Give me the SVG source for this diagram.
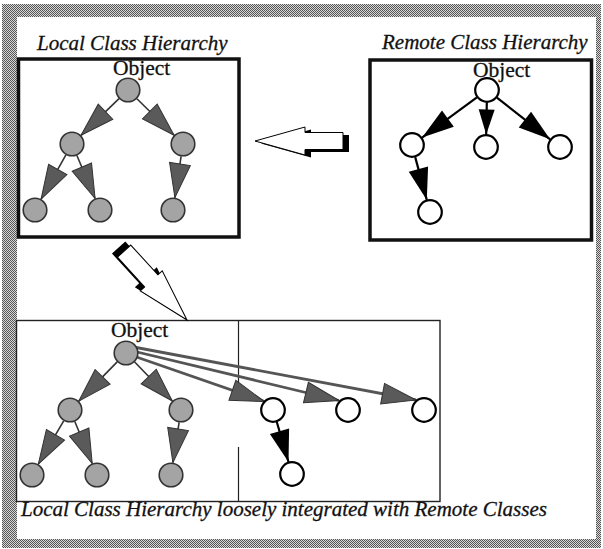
<svg xmlns="http://www.w3.org/2000/svg" xmlns:xlink="http://www.w3.org/1999/xlink" width="603" height="549" viewBox="0 0 603 549">
  <style>
    .title { font-family: "Liberation Serif", "Times New Roman", serif; font-style: italic; font-size: 21px; fill: #111; stroke: #111; stroke-width: 0.3; }
    .label { font-family: "Liberation Serif", "Times New Roman", serif; font-size: 21.5px; fill: #111; stroke: #111; stroke-width: 0.3; }
    .box-thick { fill: none; stroke: #111; stroke-width: 3.5; }
    .box-thin { fill: none; stroke: #222; stroke-width: 1.4; }
    .divider { stroke: #222; stroke-width: 1.2; }
    .local { fill: #a4a4a4; stroke: #333; stroke-width: 1.6; }
    .remote { fill: #fff; stroke: #000; stroke-width: 2.2; }
    .edge-local { stroke: #333; stroke-width: 1.6; fill: none; marker-end: url(#head-gray); }
    .edge-link { stroke: #555; stroke-width: 2.8; fill: none; marker-end: url(#head-gray); }
    .edge-remote { stroke: #000; stroke-width: 2.2; fill: none; marker-end: url(#head-black); }
    .edge-remote-short { stroke: #000; stroke-width: 2.2; fill: none; marker-end: url(#head-black-short); }
    .fat-shadow { fill: #000; }
    .fat-body { fill: #fff; stroke: #000; stroke-width: 1; }
  </style>
  <defs>
    <pattern id="halftone" width="2" height="2" patternUnits="userSpaceOnUse">
      <rect width="2" height="2" fill="#d8d8d8"/>
      <rect width="1" height="1" fill="#555"/>
      <rect x="1" y="1" width="1" height="1" fill="#555"/>
    </pattern>
    <marker id="head-gray" markerUnits="userSpaceOnUse" orient="auto" overflow="visible" markerWidth="40" markerHeight="24" refX="0" refY="0">
      <path d="M0,0 L-34,-10.5 L-34,10.5 Z" fill="#5a5a5a" stroke="#333" stroke-width="1"/>
    </marker>
    <marker id="head-black" markerUnits="userSpaceOnUse" orient="auto" overflow="visible" markerWidth="40" markerHeight="24" refX="0" refY="0">
      <path d="M0,0 L-32,-10 L-32,10 Z" fill="#000"/>
    </marker>
    <marker id="head-black-short" markerUnits="userSpaceOnUse" orient="auto" overflow="visible" markerWidth="30" markerHeight="20" refX="0" refY="0">
      <path d="M0,0 L-25,-8 L-25,8 Z" fill="#000"/>
    </marker>
    <!-- outlined block arrow pointing along +x, tail at the origin -->
    <path id="fat-arrow" d="M0,-8.5 H38 V-14 L88,0 L38,14 V8.5 H0 Z"/>
    <circle id="dot" r="11.8"/>
  </defs>

  <!-- page background and halftone frame -->
  <rect width="603" height="549" fill="#fff"/>
  <path d="M2,4 H601 V548 H2 Z M17,17 V539 H596 V17 Z" fill="url(#halftone)" fill-rule="evenodd"/>

  <!-- titles -->
  <text class="title" x="37" y="50">Local Class Hierarchy</text>
  <text class="title" x="382" y="49">Remote Class Hierarchy</text>
  <text class="title" x="21" y="516">Local Class Hierarchy loosely integrated with Remote Classes</text>

  <!-- frames -->
  <rect class="box-thick" x="18.5" y="59" width="220.5" height="178"/>
  <rect class="box-thick" x="370" y="60" width="221.5" height="180"/>
  <rect class="box-thin" x="16.5" y="320.5" width="423.5" height="181"/>
  <line class="divider" x1="238.5" y1="320.5" x2="238.5" y2="398"/>
  <line class="divider" x1="238.5" y1="447" x2="238.5" y2="501.5"/>

  <!-- block arrows between the hierarchies -->
  <g id="import-arrow">
    <use xlink:href="#fat-arrow" class="fat-shadow" transform="translate(255,142) rotate(180) translate(-94,-1.5)"/>
    <use xlink:href="#fat-arrow" class="fat-body" transform="translate(255,141) rotate(180) translate(-88,0)"/>
  </g>
  <g id="merge-arrow">
    <use xlink:href="#fat-arrow" class="fat-shadow" transform="translate(187,320) rotate(47.6) scale(1.06) translate(-94,1.5)"/>
    <use xlink:href="#fat-arrow" class="fat-body" transform="translate(187,320) rotate(47.6) scale(1.06) translate(-88,0)"/>
  </g>

  <!-- inheritance connectors -->
  <g id="connectors">
    <!-- local hierarchy -->
    <line class="edge-local" x1="119" y1="98.7" x2="81" y2="135.3"/>
    <line class="edge-local" x1="136.9" y1="98.8" x2="174.1" y2="135.3"/>
    <line class="edge-local" x1="65.9" y1="154.9" x2="41.1" y2="199.1"/>
    <line class="edge-local" x1="76.9" y1="155.5" x2="95.1" y2="198.5"/>
    <line class="edge-local" x1="181.1" y1="156.4" x2="174.9" y2="197.6"/>
    <!-- remote hierarchy -->
    <line class="edge-remote" x1="476.9" y1="97.4" x2="422.1" y2="137.6"/>
    <line class="edge-remote-short" x1="486.8" y1="102.5" x2="486.2" y2="134.5"/>
    <line class="edge-remote" x1="496.9" y1="97.7" x2="550.1" y2="139.3"/>
    <line class="edge-remote" x1="415.2" y1="157.1" x2="426.8" y2="199.9"/>
    <!-- integrated hierarchy: local part -->
    <line class="edge-local" x1="117.2" y1="361.9" x2="78.8" y2="401.1"/>
    <line class="edge-local" x1="134.7" y1="362" x2="172.3" y2="401"/>
    <line class="edge-local" x1="63.7" y1="420.8" x2="38.3" y2="464.2"/>
    <line class="edge-local" x1="74.8" y1="421.5" x2="92.2" y2="463.5"/>
    <line class="edge-local" x1="179.1" y1="422.4" x2="172.9" y2="462.6"/>
    <!-- integrated hierarchy: links to remote classes -->
    <line class="edge-link" x1="135" y1="356.5" x2="264.5" y2="401.5"/>
    <line class="edge-link" x1="135" y1="351.5" x2="339" y2="400.5"/>
    <line class="edge-link" x1="133.5" y1="347" x2="416" y2="400"/>
    <line class="edge-remote" x1="276.5" y1="421" x2="288.5" y2="462"/>
  </g>

  <!-- local class hierarchy -->
  <g id="local-object">
    <text class="label" x="113" y="75">Object</text>
    <use xlink:href="#dot" class="local" x="128" y="90"/>
  </g>
  <g id="local-a"><use xlink:href="#dot" class="local" x="72" y="144"/></g>
  <g id="local-b"><use xlink:href="#dot" class="local" x="183" y="144"/></g>
  <g id="local-a1"><use xlink:href="#dot" class="local" x="35" y="210"/></g>
  <g id="local-a2"><use xlink:href="#dot" class="local" x="100" y="210"/></g>
  <g id="local-b1"><use xlink:href="#dot" class="local" x="173" y="210"/></g>

  <!-- remote class hierarchy -->
  <g id="remote-object">
    <text class="label" x="473" y="77">Object</text>
    <use xlink:href="#dot" class="remote" x="487" y="90"/>
  </g>
  <g id="remote-a"><use xlink:href="#dot" class="remote" x="412" y="145"/></g>
  <g id="remote-b"><use xlink:href="#dot" class="remote" x="486" y="147"/></g>
  <g id="remote-c"><use xlink:href="#dot" class="remote" x="560" y="147"/></g>
  <g id="remote-a1"><use xlink:href="#dot" class="remote" x="430" y="212"/></g>

  <!-- integrated hierarchy -->
  <g id="merged-object">
    <text class="label" x="111" y="337">Object</text>
    <use xlink:href="#dot" class="local" x="126" y="353"/>
  </g>
  <g id="merged-a"><use xlink:href="#dot" class="local" x="70" y="410"/></g>
  <g id="merged-b"><use xlink:href="#dot" class="local" x="181" y="410"/></g>
  <g id="merged-a1"><use xlink:href="#dot" class="local" x="32" y="475"/></g>
  <g id="merged-a2"><use xlink:href="#dot" class="local" x="97" y="475"/></g>
  <g id="merged-b1"><use xlink:href="#dot" class="local" x="171" y="475"/></g>
  <g id="merged-remote-a"><use xlink:href="#dot" class="remote" x="273" y="410"/></g>
  <g id="merged-remote-b"><use xlink:href="#dot" class="remote" x="348" y="410"/></g>
  <g id="merged-remote-c"><use xlink:href="#dot" class="remote" x="424" y="410"/></g>
  <g id="merged-remote-a1"><use xlink:href="#dot" class="remote" x="292" y="474"/></g>
</svg>
